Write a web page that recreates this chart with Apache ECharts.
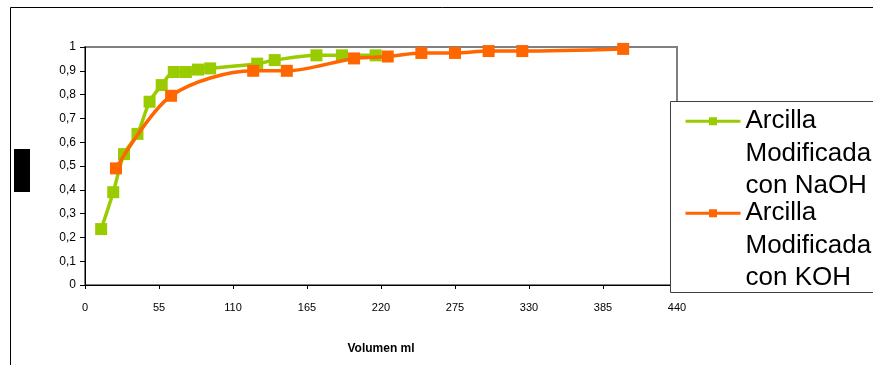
<!DOCTYPE html>
<html>
<head>
<meta charset="utf-8">
<script src="https://cdn.jsdelivr.net/npm/echarts@6/dist/echarts.min.js"></script>
<style>
  html, body { margin: 0; padding: 0; background: #fff; }
  #chart { width: 873px; height: 365px; }
</style>
</head>
<body>
<div id="chart"></div>
<script>
// datos
var naohX = [12, 21, 29, 39, 48, 57, 66, 75, 84, 93, 128, 141, 172, 191, 216];
var naohY = [0.235, 0.39, 0.55, 0.635, 0.77, 0.84, 0.895, 0.895, 0.905, 0.91, 0.93, 0.945, 0.965, 0.965, 0.965];
var kohX = [23, 64, 125, 150, 200, 225, 250, 275, 300, 325, 400];
var kohY = [0.49, 0.795, 0.90, 0.90, 0.952, 0.96, 0.975, 0.975, 0.983, 0.983, 0.992];
var seriesNames = ['Arcilla\nModificada\ncon NaOH', 'Arcilla\nModificada\ncon KOH'];
var xName = 'Volumen ml';

var chart = echarts.init(document.getElementById('chart'));

function pairs(xs, ys) {
    return xs.map(function (x, i) { return [x, ys[i]]; });
}

// el icono queda centrado en el texto: dos lineas vacias arriba
var legendBase = {
    left: 684,
    padding: 0,
    z: 20,
    itemWidth: 55,
    itemHeight: 10,
    lineStyle: { width: 3 },
    formatter: function (name) { return '\n\n' + name; },
    textStyle: {
        fontFamily: 'Liberation Sans, Arial, sans-serif',
        fontSize: 26,
        lineHeight: 32.5,
        color: '#000'
    }
};

var option = {
    animation: false,
    backgroundColor: '#fff',
    grid: {
        left: 85,
        right: 196,
        top: 47,
        bottom: 80,
        show: true,
        borderColor: '#808080',
        borderWidth: 2,
        backgroundColor: '#fff'
    },
    xAxis: {
        type: 'value',
        min: 0,
        max: 440,
        interval: 55,
        name: xName,
        nameLocation: 'middle',
        nameGap: 58,
        nameTextStyle: {
            fontFamily: 'Liberation Sans, Arial, sans-serif',
            fontWeight: 'bold',
            fontSize: 12,
            color: '#000'
        },
        splitLine: { show: false },
        axisLine: { lineStyle: { color: '#000', width: 1 } },
        axisTick: { length: 4, lineStyle: { color: '#000' } },
        axisLabel: {
            margin: 17,
            fontFamily: 'Liberation Sans Narrow, Arial Narrow, Liberation Sans, sans-serif',
            fontSize: 11,
            color: '#000'
        }
    },
    yAxis: {
        type: 'value',
        min: 0,
        max: 1,
        interval: 0.1,
        splitLine: { show: false },
        axisLine: { show: true, lineStyle: { color: '#000', width: 1 } },
        axisTick: { show: true, length: 5, lineStyle: { color: '#000' } },
        axisLabel: {
            margin: 9,
            fontFamily: 'Liberation Sans, Arial, sans-serif',
            fontSize: 12,
            color: '#000',
            formatter: function (v) {
                return String(Number(v.toFixed(1))).replace('.', ',');
            }
        }
    },
    legend: [
        echarts.util.extend({ data: [seriesNames[0]], top: 121 - 81 }, legendBase),
        echarts.util.extend({ data: [seriesNames[1]], top: 213 - 81 }, legendBase)
    ],
    graphic: [
        {
            type: 'rect',
            z: -10,
            silent: true,
            shape: { x: 10.5, y: 7.5, width: 900, height: 400 },
            style: { fill: 'none', stroke: '#000', lineWidth: 1 }
        },
        {
            type: 'rect',
            z: 5,
            silent: true,
            shape: { x: 14, y: 149, width: 16, height: 43 },
            style: { fill: '#000' }
        },
        {
            type: 'rect',
            z: 10,
            silent: true,
            shape: { x: 670.5, y: 101.5, width: 300, height: 191 },
            style: { fill: '#fff', stroke: '#404040', lineWidth: 1 }
        }
    ],
    series: [{
        name: seriesNames[0],
        type: 'line',
        data: pairs(naohX, naohY),
        smooth: 0.3,
        symbol: 'rect',
        symbolSize: 12,
        lineStyle: { color: '#99CC00', width: 3.5 },
        itemStyle: { color: '#99CC00' },
        z: 3
    }, {
        name: seriesNames[1],
        type: 'line',
        data: pairs(kohX, kohY),
        smooth: 0.3,
        symbol: 'rect',
        symbolSize: 12,
        lineStyle: { color: '#FF6600', width: 3.5 },
        itemStyle: { color: '#FF6600' },
        z: 4
    }]
};

chart.setOption(option);
</script>
</body>
</html>
